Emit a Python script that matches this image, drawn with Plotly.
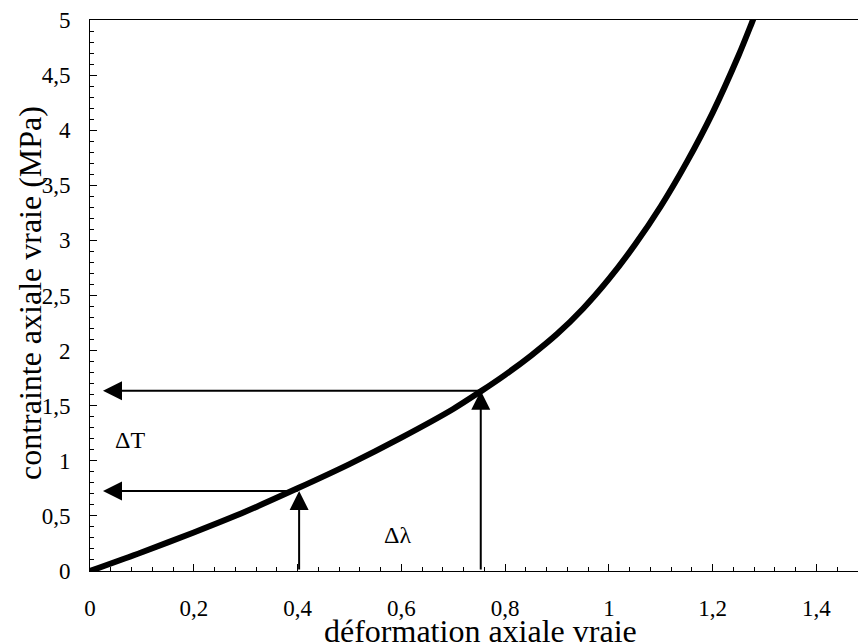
import plotly.graph_objects as go

# Courbe contrainte vraie / déformation vraie
strain = [0.0, 0.1, 0.2, 0.3, 0.4, 0.5, 0.6, 0.7, 0.753, 0.8, 0.85, 0.9,
          0.95, 1.0, 1.05, 1.1, 1.15, 1.2, 1.25, 1.275, 1.3]
stress = [0.0, 0.17, 0.35, 0.54, 0.75, 0.97, 1.21, 1.47, 1.63, 1.78, 1.955,
          2.15, 2.38, 2.65, 2.96, 3.31, 3.71, 4.16, 4.68, 4.97, 5.27]

# Points (déformation, contrainte)
read_strain = [0.403, 0.753]
read_stress = [0.726, 1.636]
arrow_end_x = 0.025

x_ticks = [0, 0.2, 0.4, 0.6, 0.8, 1, 1.2, 1.4]
y_ticks = [0, 0.5, 1, 1.5, 2, 2.5, 3, 3.5, 4, 4.5, 5]

serif = "Times New Roman, Liberation Serif, serif"
tick_font = dict(family=serif, size=23, color="black")

fig = go.Figure()
fig.add_trace(go.Scatter(x=strain, y=stress, mode="lines",
                         line=dict(color="black", width=6, shape="spline", smoothing=0.8),
                         showlegend=False, hoverinfo="skip"))

annotations = []
for sx, sy in zip(read_strain, read_stress):
    # flèche verticale : de l'axe des déformations jusqu'à la courbe
    annotations.append(dict(x=sx, y=sy, ax=sx, ay=0, xref="x", yref="y",
                            axref="x", ayref="y", showarrow=True, text="",
                            arrowhead=2, arrowsize=1.9, arrowwidth=2,
                            arrowcolor="black"))
    # flèche horizontale : de la courbe vers l'axe des contraintes
    annotations.append(dict(x=arrow_end_x, y=sy, ax=sx, ay=sy, xref="x", yref="y",
                            axref="x", ayref="y", showarrow=True, text="",
                            arrowhead=2, arrowsize=1.9, arrowwidth=2,
                            arrowcolor="black"))

annotations += [
    dict(x=0.077, y=1.19, xref="x", yref="y", text="ΔT", showarrow=False,
         font=dict(family=serif, size=24, color="black")),
    dict(x=0.593, y=0.327, xref="x", yref="y", text="Δλ", showarrow=False,
         font=dict(family=serif, size=24, color="black")),
    dict(x=0.508, y=-0.108, xref="paper", yref="paper", text="déformation axiale vraie",
         showarrow=False, xanchor="center", yanchor="middle",
         font=dict(family=serif, size=32, color="black")),
    dict(x=-0.079, y=0.505, xref="paper", yref="paper", text="contrainte axiale vraie (MPa)",
         showarrow=False, textangle=-90, xanchor="center", yanchor="middle",
         font=dict(family=serif, size=32, color="black")),
]

fig.update_layout(
    width=858, height=644,
    margin=dict(l=90, r=0, t=20, b=73),
    paper_bgcolor="white", plot_bgcolor="white",
    separators=", ",
    font=dict(family=serif, size=23, color="black"),
    annotations=annotations,
)
fig.update_xaxes(
    range=[0, 1.48], tickvals=x_ticks, ticks="inside", ticklen=7, tickwidth=1,
    tickcolor="black", tickfont=tick_font, showline=True, linecolor="black",
    linewidth=1, mirror=True, showgrid=False, zeroline=False, ticklabelstandoff=16,
    minor=dict(dtick=0.04, ticks="inside", ticklen=4, tickcolor="black", showgrid=False),
)
fig.update_yaxes(
    range=[0, 5], tickvals=y_ticks, ticks="inside", ticklen=7, tickwidth=1,
    tickcolor="black", tickfont=tick_font, showline=True, linecolor="black",
    linewidth=1, showgrid=False, zeroline=False, ticklabelstandoff=14,
    minor=dict(dtick=0.1, ticks="inside", ticklen=4, tickcolor="black", showgrid=False),
)

fig.write_html("out.html")
